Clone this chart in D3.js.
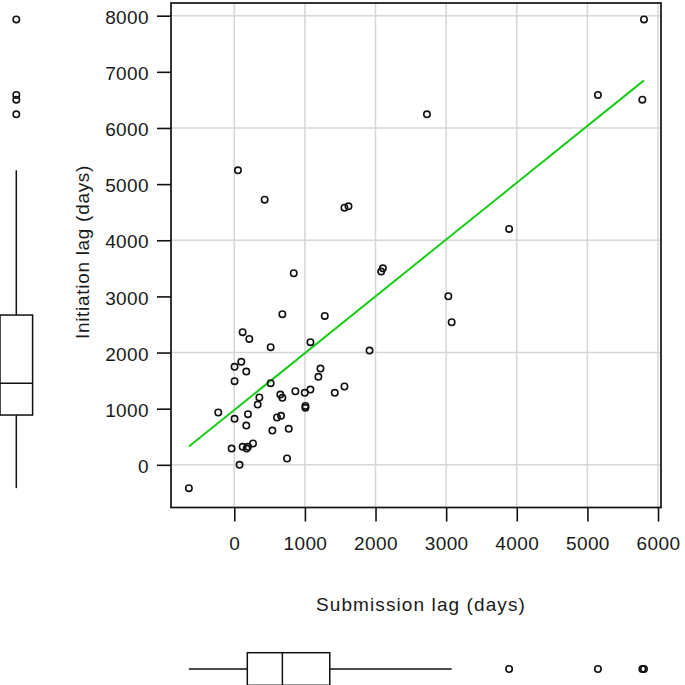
<!DOCTYPE html>
<html><head><meta charset="utf-8">
<script src="https://cdn.jsdelivr.net/npm/d3@7"></script>
<style>body{margin:0;background:#fff}svg{display:block}text{font-family:"Liberation Sans",Arial,sans-serif;fill:#1a1a1a}</style>
</head><body>
<svg id="c" width="685" height="685"></svg>
<script>
// Submission lag (days), x values of the points
const submissionLag = [681,1281,118,213,515,1078,1915,99,4,170,4,515,1220,1191,865,998,1078,1423,1560,652,681,355,331,1007,1007,-227,4,194,170,605,662,539,771,265,118,175,194,-38,75,747,-643,52,430,1560,1617,842,2080,2104,5801,5149,5778,2728,3891,3031,3078];
// Initiation lag (days), y values of the points
const initiationLag = [2683,2653,2362,2243,2095,2184,2035,1834,1745,1661,1490,1454,1715,1567,1311,1282,1341,1282,1395,1252,1193,1199,1074,1050,1015,932,819,902,700,843,872,611,641,380,320,290,320,290,0,113,-415,5246,4723,4581,4605,3412,3442,3501,7934,6587,6504,6243,4202,3003,2540];
const xTicks = [0,1000,2000,3000,4000,5000,6000];
const yTicks = [0,1000,2000,3000,4000,5000,6000,7000,8000];
const xGrid = [0,1000,2000,3000,4000,5000,6000];
const yGrid = [0,2000,4000,6000,8000];
const fitIntercept = 977, fitSlope = 1.012;

const svg = d3.select("#c");
const L=171, R=661, T=3, B=507.5;
const x = d3.scaleLinear().domain([-896,6042]).range([L,R]);
const y = d3.scaleLinear().domain([-760,8226]).range([B,T]);

// grid
svg.append("g").selectAll("line").data(xGrid).join("line")
  .attr("x1",d=>x(d)).attr("x2",d=>x(d)).attr("y1",T).attr("y2",B)
  .attr("stroke","#d6d6d6").attr("stroke-width",1.5);
svg.append("g").selectAll("line").data(yGrid).join("line")
  .attr("y1",d=>y(d)).attr("y2",d=>y(d)).attr("x1",L).attr("x2",R)
  .attr("stroke","#d6d6d6").attr("stroke-width",1.5);

// axes
const xa = svg.append("g").attr("transform",`translate(0,${B})`)
  .call(d3.axisBottom(x).tickValues(xTicks).tickSize(14).tickPadding(16).tickFormat(d3.format("d")));
const ya = svg.append("g").attr("transform",`translate(${L},0)`)
  .call(d3.axisLeft(y).tickValues(yTicks).tickSize(14).tickPadding(8).tickFormat(d3.format("d")));
[xa,ya].forEach(a=>{
  a.select(".domain").remove();
  a.selectAll(".tick line").attr("stroke","#111").attr("stroke-width",1.6);
  a.selectAll("text").attr("font-size",19).attr("letter-spacing",0.4)
   .attr("font-family","Liberation Sans, Arial, sans-serif").attr("fill","#1a1a1a");
});
ya.selectAll("text").attr("dy","0.40em");
xa.selectAll("text").attr("dy","0.68em");

// frame
svg.append("rect").attr("x",L).attr("y",T).attr("width",R-L).attr("height",B-T)
  .attr("fill","none").attr("stroke","#111").attr("stroke-width",1.7);

// regression line
const xe = d3.extent(submissionLag);
svg.append("line")
  .attr("x1",x(xe[0])).attr("y1",y(fitIntercept+fitSlope*xe[0]))
  .attr("x2",x(xe[1])).attr("y2",y(fitIntercept+fitSlope*xe[1]))
  .attr("stroke","#18cc18").attr("stroke-width",2);

// points
svg.append("g").selectAll("circle").data(submissionLag.map((d,i)=>[d,initiationLag[i]])).join("circle")
  .attr("cx",d=>x(d[0])).attr("cy",d=>y(d[1])).attr("r",3.2)
  .attr("fill","none").attr("stroke","#111").attr("stroke-width",1.6);

// axis titles
svg.append("text").attr("x",421).attr("y",611).attr("text-anchor","middle")
  .attr("font-size",19).attr("letter-spacing",1.1).text("Submission lag (days)");
svg.append("text").attr("transform","translate(89,252) rotate(-90)").attr("text-anchor","middle")
  .attr("font-size",19).attr("letter-spacing",0.7).text("Initiation lag (days)");

// boxplot stats (Tukey)
function stats(arr){
  const s = arr.slice().sort((a,b)=>a-b), n=s.length;
  const med = d3.median(s);
  const h = Math.floor((n+1)/2);
  const lo = d3.median(s.slice(0,h)), hi = d3.median(s.slice(n-h));
  const iqr = hi-lo;
  const inside = s.filter(v=>v>=lo-1.5*iqr && v<=hi+1.5*iqr);
  return {lo,med,hi,wlo:d3.min(inside),whi:d3.max(inside),out:s.filter(v=>v<lo-1.5*iqr||v>hi+1.5*iqr)};
}
const sy = stats(initiationLag), sx = stats(submissionLag);
const st = {stroke:"#111","stroke-width":1.5};
function ap(sel,o){for(const k in o) sel.attr(k,o[k]); return sel;}

// left boxplot (vertical)
const cxL = 16.3, hw = 16.3;
const gl = svg.append("g");
ap(gl.append("line").attr("x1",cxL).attr("x2",cxL).attr("y1",y(sy.whi)).attr("y2",y(sy.hi)),st);
ap(gl.append("line").attr("x1",cxL).attr("x2",cxL).attr("y1",y(sy.lo)).attr("y2",y(sy.wlo)),st);
ap(gl.append("rect").attr("x",cxL-hw).attr("width",2*hw).attr("y",y(sy.hi)).attr("height",y(sy.lo)-y(sy.hi)).attr("fill","none"),st);
ap(gl.append("line").attr("x1",cxL-hw).attr("x2",cxL+hw).attr("y1",y(sy.med)).attr("y2",y(sy.med)),st);
gl.selectAll("circle").data(sy.out).join("circle").attr("cx",cxL).attr("cy",d=>y(d)).attr("r",3.2)
  .attr("fill","none").attr("stroke","#111").attr("stroke-width",1.6);

// bottom boxplot (horizontal)
const cyB = 669;
const gb = svg.append("g");
ap(gb.append("line").attr("y1",cyB).attr("y2",cyB).attr("x1",x(sx.wlo)).attr("x2",x(sx.lo)),st);
ap(gb.append("line").attr("y1",cyB).attr("y2",cyB).attr("x1",x(sx.hi)).attr("x2",x(sx.whi)),st);
ap(gb.append("rect").attr("y",cyB-hw).attr("height",2*hw).attr("x",x(sx.lo)).attr("width",x(sx.hi)-x(sx.lo)).attr("fill","none"),st);
ap(gb.append("line").attr("y1",cyB-hw).attr("y2",cyB+hw).attr("x1",x(sx.med)).attr("x2",x(sx.med)),st);
gb.selectAll("circle").data(sx.out).join("circle").attr("cy",cyB).attr("cx",d=>x(d)).attr("r",3.2)
  .attr("fill","none").attr("stroke","#111").attr("stroke-width",1.6);
</script>
</body></html>
